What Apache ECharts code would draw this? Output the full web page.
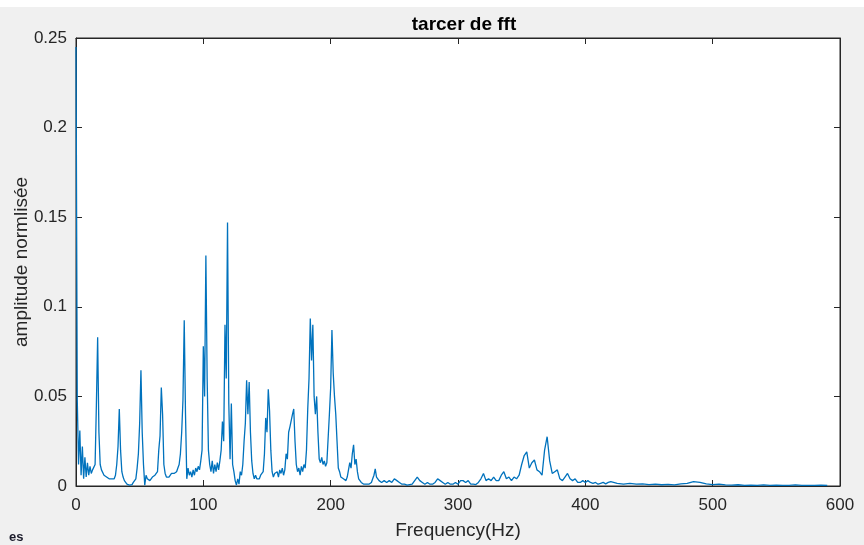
<!DOCTYPE html>
<html>
<head>
<meta charset="utf-8">
<script src="https://cdn.jsdelivr.net/npm/echarts@6/dist/echarts.min.js"></script>
<style>
  html, body { margin: 0; padding: 0; background: #f0f0f0; }
  #chart { width: 864px; height: 545px; }
</style>
</head>
<body>
<div id="chart"></div>
<script>
// spectre fft : 0-240 Hz pas 1 Hz
const ampLow = [
  0.245, 0.048, 0.012, 0.031, 0.006, 0.022, 0.004, 0.016, 0.005, 0.013,
  0.006, 0.011, 0.007, 0.009, 0.008, 0.012, 0.045, 0.083, 0.03, 0.012,
  0.009, 0.008, 0.006, 0.007, 0.005, 0.006, 0.004, 0.005, 0.004, 0.005,
  0.004, 0.006, 0.012, 0.022, 0.043, 0.02, 0.008, 0.005, 0.003, 0.002,
  0.001, 0.002, 0.0005, 0.001, 0.0008, 0.002, 0.001, 0.004, 0.01, 0.018,
  0.035, 0.0646, 0.03, 0.012, 0.0005, 0.006, 0.004, 0.005, 0.003, 0.004,
  0.005, 0.004, 0.006, 0.005, 0.008, 0.02, 0.028, 0.055, 0.04, 0.012,
  0.007, 0.005, 0.006, 0.005, 0.006, 0.007, 0.006, 0.007, 0.008, 0.008,
  0.01, 0.012, 0.018, 0.03, 0.048, 0.0925, 0.04, 0.004, 0.01, 0.006,
  0.008, 0.005, 0.009, 0.006, 0.01, 0.008, 0.011, 0.009, 0.014, 0.02,
  0.078, 0.05, 0.1286, 0.06, 0.02, 0.012, 0.008, 0.014, 0.007, 0.012,
  0.008, 0.013, 0.009, 0.014, 0.02, 0.036, 0.025, 0.09, 0.06, 0.147,
  0.046, 0.015, 0.046, 0.012, 0.008, 0.003, 0.0005, 0.004, 0.001, 0.008,
  0.006, 0.012, 0.025, 0.035, 0.059, 0.04, 0.058, 0.03, 0.014, 0.007,
  0.004, 0.006, 0.004, 0.005, 0.004, 0.006, 0.005, 0.008, 0.018, 0.038,
  0.03, 0.054, 0.042, 0.02, 0.008, 0.005, 0.007, 0.006, 0.008, 0.005,
  0.009, 0.007, 0.01, 0.006, 0.009, 0.018, 0.015, 0.03, 0.033, 0.034,
  0.04, 0.043, 0.025, 0.012, 0.008, 0.01, 0.006, 0.011, 0.008, 0.012,
  0.01, 0.02, 0.043, 0.06, 0.0935, 0.07, 0.09, 0.05, 0.04, 0.05,
  0.03, 0.015, 0.013, 0.016, 0.012, 0.014, 0.011, 0.013, 0.012, 0.04,
  0.055, 0.087, 0.063, 0.05, 0.04, 0.025, 0.01, 0.008, 0.005, 0.006,
  0.004, 0.005, 0.003, 0.005, 0.006, 0.013, 0.01, 0.018, 0.023, 0.012,
  0.015, 0.008, 0.004, 0.003, 0.002, 0.003, 0.001, 0.002, 0.001, 0.002,
  0.001, 0.002, 0.002, 0.004, 0.006, 0.0095, 0.005, 0.004, 0.003, 0.002,
  0.002
];
// 242-420 Hz pas 2 Hz
const ampMid = [
  0.003, 0.002, 0.003, 0.002, 0.004, 0.003, 0.002, 0.001, 0.001, 0.0005,
  0.0008, 0.001, 0.003, 0.005, 0.003, 0.002, 0.001, 0.002, 0.001, 0.001,
  0.002, 0.004, 0.003, 0.002, 0.001, 0.002, 0.001, 0.001, 0.002, 0.001,
  0.003, 0.003, 0.002, 0.003, 0.001, 0.001, 0.0008, 0.002, 0.004, 0.007,
  0.003, 0.004, 0.003, 0.005, 0.003, 0.003, 0.006, 0.008, 0.004, 0.005,
  0.003, 0.005, 0.004, 0.006, 0.012, 0.017, 0.019, 0.01, 0.013, 0.0145,
  0.009, 0.008, 0.006, 0.02, 0.0275, 0.014, 0.007, 0.008, 0.009, 0.004,
  0.003, 0.005, 0.007, 0.004, 0.003, 0.004, 0.002, 0.002, 0.003, 0.002,
  0.003, 0.002, 0.0015, 0.002, 0.001, 0.0015, 0.002, 0.0012, 0.002, 0.0025
];
// 425-590 Hz pas 5 Hz
const ampHigh = [
  0.0015, 0.001, 0.0015, 0.001, 0.0012, 0.0008, 0.001, 0.0007, 0.0009, 0.0006,
  0.0012, 0.0015, 0.0025, 0.002, 0.0012, 0.0008, 0.001, 0.0006, 0.0005, 0.0007,
  0.0004, 0.0005, 0.0004, 0.0006, 0.0004, 0.0005, 0.0003, 0.0004, 0.0006, 0.0004,
  0.0003, 0.0004, 0.0005, 0.0003
];
const xTicks = [0, 100, 200, 300, 400, 500, 600];
const yTicks = [0, 0.05, 0.1, 0.15, 0.2, 0.25];

const data = [];
ampLow.forEach((v, i) => data.push([i, v]));
ampMid.forEach((v, i) => data.push([242 + 2 * i, v]));
ampHigh.forEach((v, i) => data.push([425 + 5 * i, v]));

const font = 'Liberation Sans, Arial, sans-serif';
const axisCol = '#262626';
const axLine = { show: true, onZero: false, lineStyle: { color: axisCol } };
const axTick = { show: true, inside: true, length: 6, lineStyle: { color: axisCol } };

const chart = echarts.init(document.getElementById('chart'));
chart.setOption({
  backgroundColor: '#f0f0f0',
  animation: false,
  title: {
    text: 'tarcer de fft',
    left: 459, top: 10, textAlign: 'center',
    textStyle: { fontFamily: font, fontSize: 19, fontWeight: 'bold', color: '#000' }
  },
  graphic: [
    { type: 'rect', shape: { x: 0, y: 0, width: 864, height: 7 }, style: { fill: '#fff' } },
    { type: 'text', left: 9, top: 531, style: { text: 'es', font: 'bold 13px ' + font, fill: '#1a1a2a' } }
  ],
  grid: {
    left: 76, right: 24, top: 38, bottom: 59,
    containLabel: false, outerBoundsMode: 'none',
    show: true, backgroundColor: '#fff', borderColor: axisCol, borderWidth: 1
  },
  xAxis: [{
    type: 'value', min: 0, max: 600, interval: 100,
    name: 'Frequency(Hz)', nameLocation: 'middle', nameGap: 35,
    nameTextStyle: { fontFamily: font, fontSize: 19, color: axisCol },
    axisLine: axLine, axisTick: axTick,
    axisLabel: { margin: 11, fontFamily: font, fontSize: 17, color: axisCol,
      formatter: v => xTicks.includes(v) ? String(v) : '' },
    splitLine: { show: false }
  }, {
    type: 'value', position: 'top', min: 0, max: 600, interval: 100,
    axisLine: axLine, axisTick: axTick,
    axisLabel: { show: false }, splitLine: { show: false }
  }],
  yAxis: [{
    type: 'value', min: 0, max: 0.25, interval: 0.05,
    name: 'amplitude normlisée', nameLocation: 'middle', nameGap: 45,
    nameMoveOverlap: false,
    nameTextStyle: { fontFamily: font, fontSize: 19, color: axisCol },
    axisLine: axLine, axisTick: axTick,
    axisLabel: { margin: 9, fontFamily: font, fontSize: 17, color: axisCol,
      formatter: v => { const t = yTicks.find(k => Math.abs(k - v) < 1e-9); return t === undefined ? '' : String(t); } },
    splitLine: { show: false }
  }, {
    type: 'value', position: 'right', min: 0, max: 0.25, interval: 0.05,
    axisLine: axLine, axisTick: axTick,
    axisLabel: { show: false }, splitLine: { show: false }
  }],
  series: [{
    type: 'line',
    data: data,
    showSymbol: false,
    sampling: false,
    lineStyle: { width: 1.3, color: '#0072BD' },
    itemStyle: { color: '#0072BD' }
  }]
});
</script>
</body>
</html>
